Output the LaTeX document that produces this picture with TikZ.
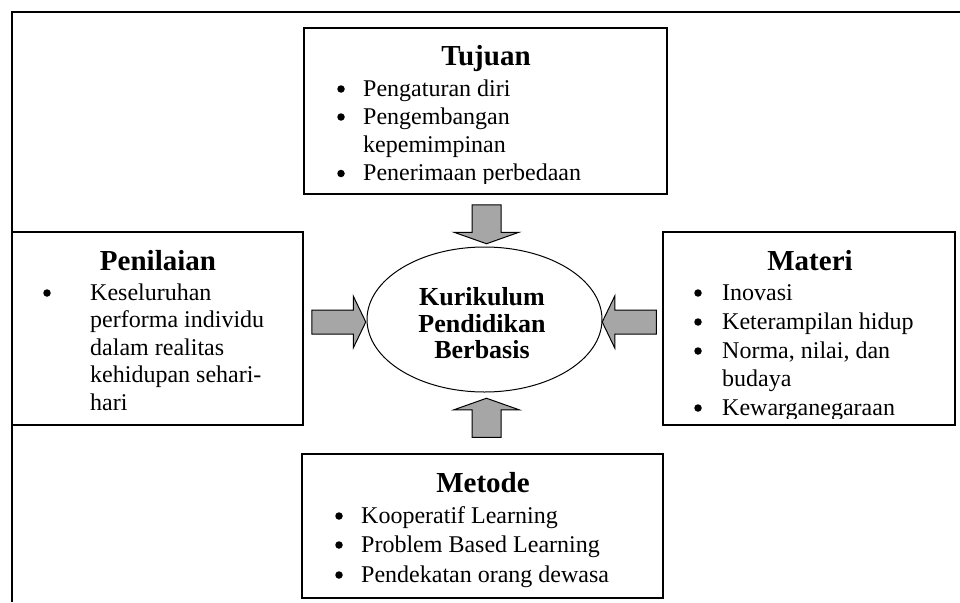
\documentclass[tikz,border=0pt]{standalone}
\usepackage{fontspec}
\setmainfont{Liberation Serif}
\usetikzlibrary{shapes.geometric,calc}
\definecolor{arrowgray}{RGB}{166,166,166}
\begin{document}
\begin{tikzpicture}[x=1pt,y=-1pt,
  box/.style={draw, line width=1.5pt, rectangle, inner sep=0pt},
  heading/.style={font=\fontsize{29}{32}\selectfont\bfseries, anchor=base, inner sep=0pt},
  itemtext/.style={font=\fontsize{24}{28}\selectfont, anchor=base west, inner sep=0pt},
  itemdot/.style={circle, fill=black, inner sep=0pt, minimum size=7.5pt},
  coretext/.style={font=\fontsize{26}{27}\selectfont\bfseries, anchor=base, inner sep=0pt},
  fatarrow/.style={draw, line width=1pt, fill=arrowgray, line join=miter},
  downarrow/.pic={\draw[fatarrow] (-14.5,0) -- (-14.5,27.5) -- (-32.5,27.5) -- (0,39)
      -- (32.5,27.5) -- (14.5,27.5) -- (14.5,0) -- cycle;},
  rightarrow/.pic={\draw[fatarrow] (0,-12) -- (41.5,-12) -- (41.5,-26) -- (54,0)
      -- (41.5,26) -- (41.5,12) -- (0,12) -- cycle;},
]
\useasboundingbox (0,0) rectangle (960,602);

% outer frame (top and left edges)
\coordinate (frameBL) at (12,602);
\coordinate (frameTL) at (12,12);
\coordinate (frameTR) at (960,12);
\draw[line width=2pt] (frameBL) -- (frameTL) -- (frameTR);

% boxes
\node[box, minimum width=363pt, minimum height=166pt] (tujuan) at (485.5,111) {};
\node[box, minimum width=291pt, minimum height=193pt] (penilaian) at (157.5,328.5) {};
\node[box, minimum width=292pt, minimum height=193pt] (materi) at (809,328.5) {};
\node[box, minimum width=361pt, minimum height=144pt] (metode) at (482.5,526) {};

% centre ellipse
\node[draw, ellipse, line width=1pt, minimum width=235pt, minimum height=145pt, inner sep=0pt]
  (core) at (484.5,319.5) {};
\node[coretext] (core1) at (482,305) {Kurikulum};
\node[coretext] (core2) at (482,332) {Pendidikan};
\node[coretext] (core3) at (482,358) {Berbasis};

% Tujuan
\node[heading] (tujuanH) at (486,66) {Tujuan};
\node[itemdot] (tb1) at (341,89) {};
\node[itemtext] (tt1) at (363,96) {Pengaturan diri};
\node[itemdot] (tb2) at (341,117) {};
\node[itemtext] (tt2) at (363,124) {Pengembangan};
\node[itemtext] (tt3) at (363,152) {kepemimpinan};
\node[itemdot] (tb3) at (341,173.5) {};
\begin{scope}
  \clip (305,160) rectangle (666,183);
  \node[itemtext] (tt4) at (363,180.5) {Penerimaan perbedaan};
\end{scope}

% Penilaian
\node[heading] (penilaianH) at (158,270) {Penilaian};
\node[itemdot] (pb1) at (47,293) {};
\node[itemtext] (pt1) at (90,300) {Keseluruhan};
\node[itemtext] (pt2) at (90,327.5) {performa individu};
\node[itemtext] (pt3) at (90,355) {dalam realitas};
\node[itemtext] (pt4) at (90,382.5) {kehidupan sehari-};
\node[itemtext] (pt5) at (90,410) {hari};

% Materi
\node[heading] (materiH) at (810,270) {Materi};
\node[itemdot] (mb1) at (698,293) {};
\node[itemtext] (mt1) at (722,300) {Inovasi};
\node[itemdot] (mb2) at (698,322) {};
\node[itemtext] (mt2) at (722,329) {Keterampilan hidup};
\node[itemdot] (mb3) at (698,351) {};
\node[itemtext] (mt3) at (722,358) {Norma, nilai, dan};
\node[itemtext] (mt4) at (722,386.5) {budaya};
\node[itemdot] (mb4) at (698,408) {};
\begin{scope}
  \clip (664,395) rectangle (954,418);
  \node[itemtext] (mt5) at (722,415) {Kewarganegaraan};
\end{scope}

% Metode
\node[heading] (metodeH) at (483,492) {Metode};
\node[itemdot] (eb1) at (339,516) {};
\node[itemtext] (et1) at (361,523) {Kooperatif Learning};
\node[itemdot] (eb2) at (339,545) {};
\node[itemtext] (et2) at (361,552) {Problem Based Learning};
\node[itemdot] (eb3) at (339,575) {};
\node[itemtext] (et3) at (361,582) {Pendekatan orang dewasa};

% block arrows towards the centre
\pic (arrTop) at ($(tujuan.south)+(1,10)$) {downarrow};
\pic[rotate=180] (arrBottom) at ($(metode.north)+(4,-16)$) {downarrow};
\pic (arrLeft) at ($(penilaian.east)+(8,-6.5)$) {rightarrow};
\pic[rotate=180] (arrRight) at ($(materi.west)+(-6,-6.5)$) {rightarrow};
\end{tikzpicture}
\end{document}
